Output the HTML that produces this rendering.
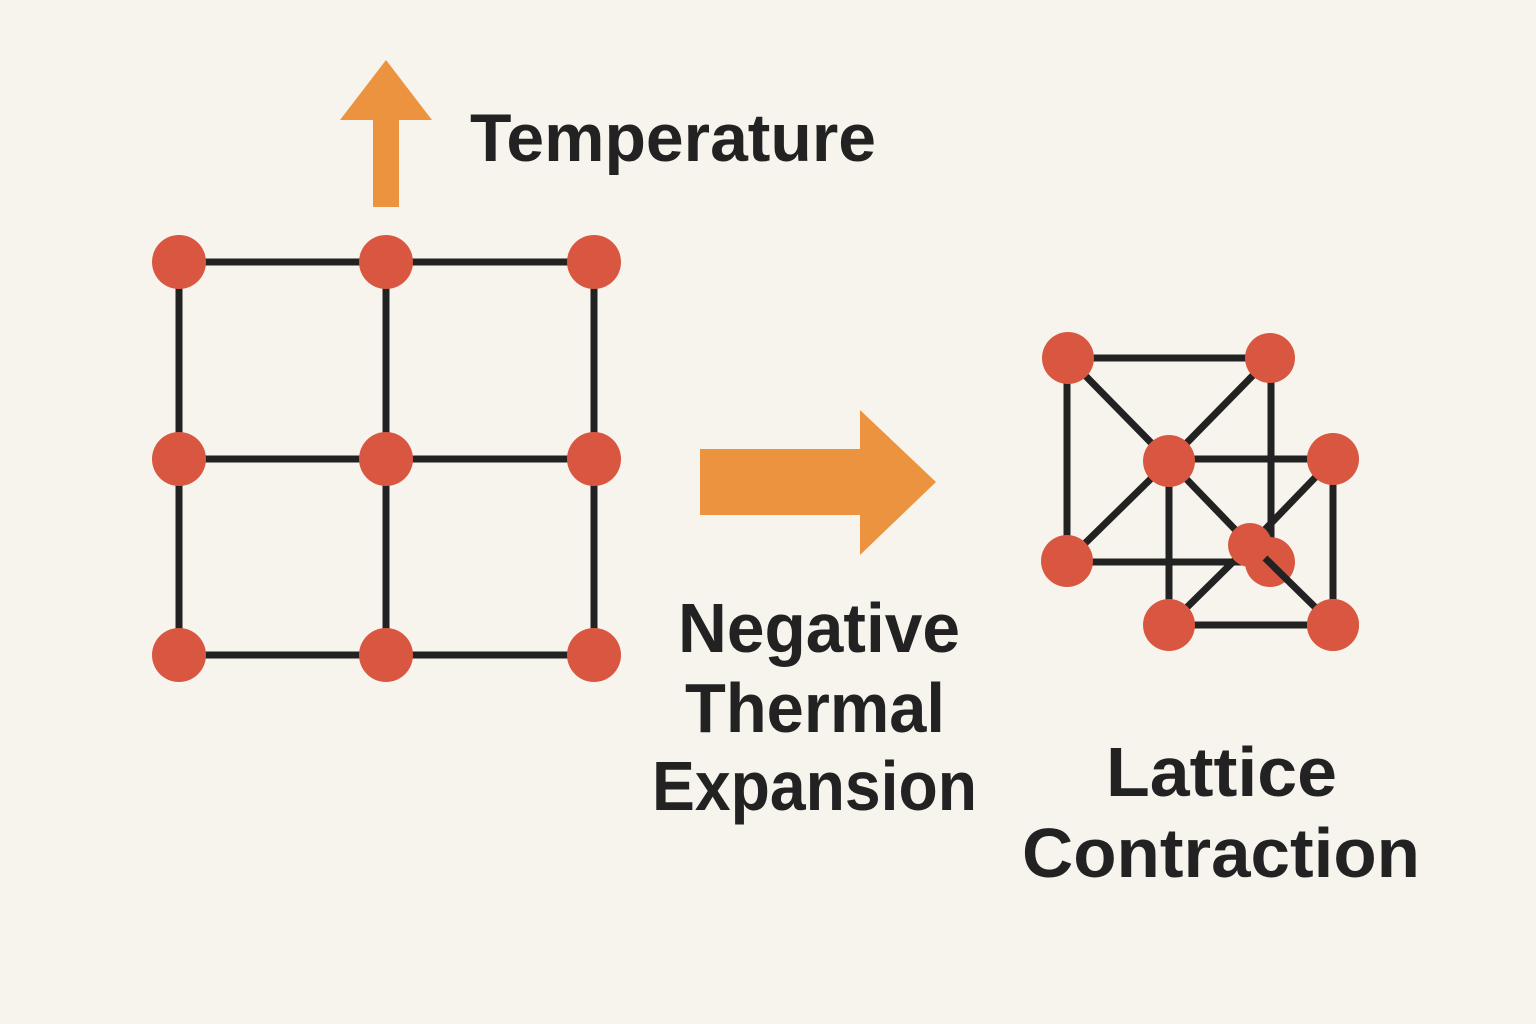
<!DOCTYPE html>
<html><head><meta charset="utf-8"><style>
html,body{margin:0;padding:0;background:#f7f4ee;}
svg{display:block}
text{font-family:"Liberation Sans",sans-serif;fill:#222;font-weight:bold}
</style></head><body>
<svg width="1536" height="1024" viewBox="0 0 1536 1024" xmlns="http://www.w3.org/2000/svg">
<rect width="1536" height="1024" fill="#f7f4ee"/>
<polygon points="373,120 340,120 386,60 432,120 399,120 399,207 373,207" fill="#ec9340"/>
<polygon points="700,449 860,449 860,410 936,482 860,555 860,515 700,515" fill="#ec9340"/>
<g stroke="#222" stroke-width="7">
<line x1="179" y1="262" x2="594" y2="262"/><line x1="179" y1="459" x2="594" y2="459"/><line x1="179" y1="655" x2="594" y2="655"/>
<line x1="179" y1="262" x2="179" y2="655"/><line x1="386" y1="262" x2="386" y2="655"/><line x1="594" y1="262" x2="594" y2="655"/>
</g>
<g fill="#d95740">
<circle cx="179" cy="262" r="27"/><circle cx="386" cy="262" r="27"/><circle cx="594" cy="262" r="27"/>
<circle cx="179" cy="459" r="27"/><circle cx="386" cy="459" r="27"/><circle cx="594" cy="459" r="27"/>
<circle cx="179" cy="655" r="27"/><circle cx="386" cy="655" r="27"/><circle cx="594" cy="655" r="27"/>
</g>
<g stroke="#222" stroke-width="7">
<line x1="1068" y1="358" x2="1270" y2="358"/>
<line x1="1067" y1="358" x2="1067" y2="561"/>
<line x1="1271" y1="358" x2="1271" y2="548"/>
<line x1="1068" y1="358" x2="1169" y2="461"/>
<line x1="1270" y1="358" x2="1169" y2="461"/>
<line x1="1169" y1="459" x2="1333" y2="459"/>
<line x1="1169" y1="461" x2="1067" y2="561"/>
<line x1="1169" y1="461" x2="1169" y2="625"/>
<line x1="1169" y1="461" x2="1250" y2="545"/>
<line x1="1067" y1="562" x2="1245" y2="562"/>
<line x1="1333" y1="459" x2="1250" y2="545"/>
<line x1="1333" y1="459" x2="1333" y2="625"/>
<line x1="1169" y1="625" x2="1333" y2="625"/>
<line x1="1169" y1="625" x2="1240" y2="555"/>
</g>
<g fill="#d95740">
<circle cx="1068" cy="358" r="26"/><circle cx="1270" cy="358" r="25"/>
<circle cx="1169" cy="461" r="26"/><circle cx="1333" cy="459" r="26"/>
<circle cx="1067" cy="561" r="26"/><circle cx="1270" cy="562" r="25"/>
<circle cx="1250" cy="545" r="22"/>
<circle cx="1169" cy="625" r="26"/><circle cx="1333" cy="625" r="26"/>
</g>
<line x1="1265" y1="558" x2="1320" y2="612" stroke="#222" stroke-width="7"/>
<circle cx="1333" cy="625" r="26" fill="#d95740"/>
<text x="470" y="161" font-size="68" textLength="406" lengthAdjust="spacingAndGlyphs">Temperature</text>
<text x="678" y="652" font-size="70" textLength="282" lengthAdjust="spacingAndGlyphs">Negative</text>
<text x="685" y="732" font-size="70" textLength="260" lengthAdjust="spacingAndGlyphs">Thermal</text>
<text x="652" y="810" font-size="70" textLength="325" lengthAdjust="spacingAndGlyphs">Expansion</text>
<text x="1106" y="796" font-size="70" textLength="231" lengthAdjust="spacingAndGlyphs">Lattice</text>
<text x="1022" y="877" font-size="70" textLength="398" lengthAdjust="spacingAndGlyphs">Contraction</text>
</svg>
</body></html>
